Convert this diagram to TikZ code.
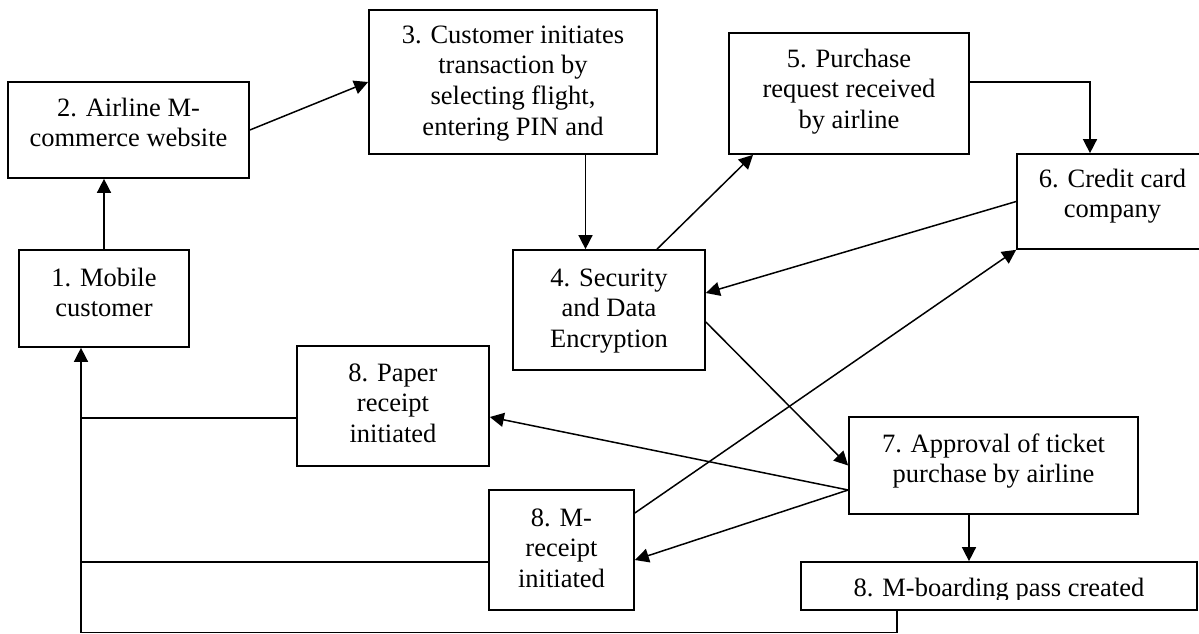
\documentclass[tikz,border=0pt]{standalone}
\usepackage{fontspec}
\setmainfont{Liberation Serif}
\usetikzlibrary{arrows.meta,calc}
\begin{document}
\begin{tikzpicture}[x=1pt,y=-1pt,
  box/.style={draw, line width=1.7pt, inner sep=0pt},
  txt/.style={anchor=base, align=center, inner sep=0pt, font=\fontsize{26.5}{30.7}\selectfont},
  arr/.style={line width=1.5pt, -{Triangle[length=14pt,width=14pt]}},
  ln/.style={line width=1.5pt}]
\useasboundingbox (0,0) rectangle (1199,634);
\clip (0,0) rectangle (1199,634);
% boxes
\node[box, minimum width=170pt, minimum height=97pt]  (b1) at (104,298.5) {};
\node[box, minimum width=241pt, minimum height=96pt]  (b2) at (128.5,130) {};
\node[box, minimum width=288pt, minimum height=144pt] (b3) at (513,82) {};
\node[box, minimum width=192pt, minimum height=120pt] (b4) at (609,310) {};
\node[box, minimum width=240pt, minimum height=121pt] (b5) at (849,93.5) {};
\node[box, minimum width=191pt, minimum height=95pt]  (b6) at (1112.5,201.5) {};
\node[box, minimum width=192pt, minimum height=120pt] (pap) at (393,406) {};
\node[box, minimum width=145pt, minimum height=120pt] (mr) at (561.5,550) {};
\node[box, minimum width=289pt, minimum height=97pt]  (b7) at (993.5,465.5) {};
\node[box, minimum width=396pt, minimum height=48pt]  (bp) at (999,586) {};
% texts (anchor base = baseline of the last line)
\node[txt] (t1) at ([yshift=-67.7pt]b1.north) {1. Mobile\\customer};
\node[txt] (t2) at ([yshift=-65.7pt]b2.north) {2. Airline M-\\commerce website};
\node[txt] (t3) at ([yshift=-126.1pt]b3.north) {3. Customer initiates\\transaction by\\selecting flight,\\entering PIN and};
\node[txt] (t4) at ([yshift=-98.4pt]b4.north) {4. Security\\and Data\\Encryption};
\node[txt] (t5) at ([yshift=-96.4pt]b5.north) {5. Purchase\\request received\\by airline};
\node[txt] (t6) at ([yshift=-64.7pt]b6.north) {6. Credit card\\company};
\node[txt] (t8a) at ([yshift=-97.4pt]pap.north) {8. Paper\\receipt\\initiated};
\node[txt] (t8b) at ([yshift=-98.4pt]mr.north) {8. M-\\receipt\\initiated};
\node[txt] (t7) at ([yshift=-66.7pt]b7.north) {7. Approval of ticket\\purchase by airline};
\begin{scope}
\clip (bp.north west) rectangle ([yshift=11pt]bp.south east);
\node[txt] (t8c) at ([yshift=-35pt]bp.north) {8. M-boarding pass created};
\end{scope}
% connectors
\coordinate (corner) at (81,632.5);
\draw[arr] (b1.north) -- (b1.north |- b2.south);
\draw[arr] (b2.east) -- (b3.west);
\draw[arr] ([xshift=72.5pt]b3.south) -- ([xshift=72.5pt]b3.south |- b4.north);
\draw[arr] ([xshift=48pt]b4.north) -- ([xshift=-96pt]b5.south);
\draw[arr] ([yshift=11.5pt]b5.east) -| ([xshift=-22.5pt]b6.north);
\draw[arr] (b6.west) -- ([yshift=17pt]b4.east);
\draw[arr] ([yshift=-12pt]b4.east) -- (b7.west);
\draw[arr] ([yshift=-24.5pt]b7.west) -- ([yshift=-11pt]pap.east);
\draw[arr] ([yshift=-24.5pt]b7.west) -- ([yshift=-10pt]mr.east);
\draw[arr] ([yshift=37pt]mr.east) -- (b6.south west);
\draw[arr] ([xshift=-24.5pt]b7.south) -- ([xshift=-24.5pt]b7.south |- bp.north);
\draw[ln] ([yshift=-12pt]pap.west) -- ([yshift=-12pt]pap.west -| corner);
\draw[ln] ([yshift=-12pt]mr.west) -- ([yshift=-12pt]mr.west -| corner);
\draw[arr] ([xshift=-102pt]bp.south) |- (corner) -- (corner |- b1.south);
\end{tikzpicture}
\end{document}
